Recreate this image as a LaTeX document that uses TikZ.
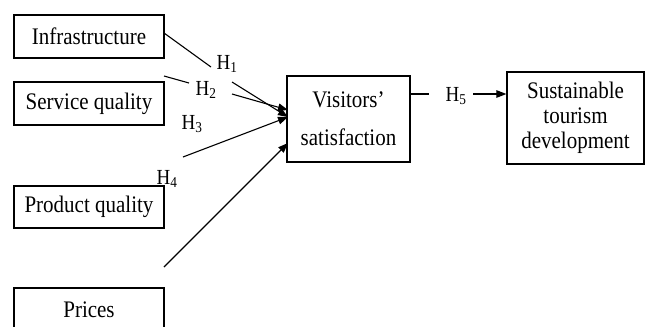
\documentclass[tikz,border=0pt]{standalone}
\usepackage{fontspec}
\setmainfont{Liberation Serif}
\usetikzlibrary{arrows.meta}
\newcommand{\vst}[1]{\scalebox{1}[1.13]{#1}}
\begin{document}
\begin{tikzpicture}[x=1pt,y=-1pt,
  box/.style={draw,line width=1.2pt,minimum width=#1,inner sep=0pt,font=\fontsize{21}{27}\selectfont,align=center},
  hlab/.style={inner sep=0pt,font=\fontsize{19}{22}\selectfont},
  conn/.style={line width=1.1pt},
  arr/.style={line width=1.1pt,-{Triangle[length=10pt,width=7.5pt]}}]
\useasboundingbox (0,0) rectangle (649,327);
\clip (0,0) rectangle (649,327);
% boxes
\node[box=150pt,minimum height=43pt] (inf) at (89,36.5) {\vst{Infrastructure}};
\node[box=150pt,minimum height=43pt] (svc) at (89,103.5) {\vst{Service quality}};
\node[box=150pt,minimum height=42pt] (prd) at (89,207) {\vst{Product quality}};
\node[box=150pt,minimum height=44pt] (prc) at (89,310) {\vst{Prices}};
\node[box=123pt,minimum height=86pt] (vis) at (348.5,119) {\vst{Visitors’}\\[11pt]\vst{satisfaction}};
\node[box=137pt,minimum height=92pt] (sus) at (575.5,118) {\vst{Sustainable}\\[-2pt]\vst{tourism}\\[-2pt]\vst{development}};
% labels
\node[hlab] (h1) at (227,64) {\vst{H\textsubscript{1}}};
\node[hlab] (h2) at (206,90) {\vst{H\textsubscript{2}}};
\node[hlab] (h3) at (192,124) {\vst{H\textsubscript{3}}};
\node[hlab] (h4) at (167,179) {\vst{H\textsubscript{4}}};
\node[hlab] (h5) at (456,96) {\vst{H\textsubscript{5}}};
% connector points
\coordinate (a1) at (164,33);  \coordinate (b1) at (211,67);
\coordinate (c1) at (232,82);  \coordinate (t1) at (288,117);
\coordinate (a2) at (164,76);  \coordinate (b2) at (189,83);
\coordinate (c2) at (232,94);  \coordinate (t2) at (288,110);
\coordinate (c3) at (183,157); \coordinate (t3) at (288,117);
\coordinate (c4) at (164,267); \coordinate (t4) at (288,143);
\coordinate (a5) at (429,94);  \coordinate (c5) at (473,94);
% connectors
\draw[conn] (a1) -- (b1);
\draw[arr] (c1) -- (t1);
\draw[conn] (a2) -- (b2);
\draw[arr] (c2) -- (t2);
\draw[arr] (c3) -- (t3);
\draw[arr] (c4) -- (t4);
\draw[conn] (vis.east |- a5) -- (a5);
\draw[arr] (c5) -- (sus.west |- c5);
\end{tikzpicture}
\end{document}
